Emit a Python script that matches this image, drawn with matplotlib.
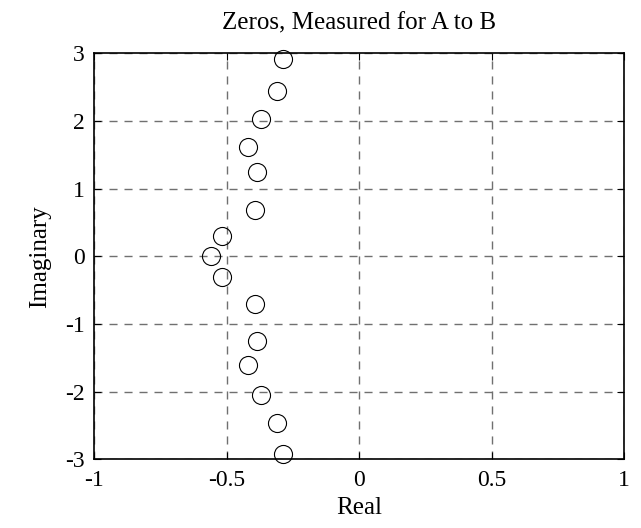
import matplotlib
matplotlib.use("Agg")
import matplotlib.pyplot as plt

real_parts = [-0.287, -0.309, -0.372, -0.419, -0.387, -0.395, -0.519, -0.560,
              -0.519, -0.395, -0.387, -0.419, -0.372, -0.309, -0.287]
imag_parts = [2.91, 2.45, 2.03, 1.61, 1.25, 0.69, 0.30, 0.0,
              -0.31, -0.70, -1.25, -1.61, -2.05, -2.47, -2.92]
x_ticks = [-1, -0.5, 0, 0.5, 1]
x_labels = ["-1", "-0.5", "0", "0.5", "1"]
y_ticks = [-3, -2, -1, 0, 1, 2, 3]
y_labels = ["-3", "-2", "-1", "0", "1", "2", "3"]

plt.rcParams['font.family'] = ['Liberation Serif', 'DejaVu Serif']
fig = plt.figure(figsize=(6.41, 5.28), dpi=100)
ax = fig.add_axes([94.3 / 641, 68.7 / 528, 530 / 641, 406 / 528])
ax.plot(real_parts, imag_parts, linestyle='none', marker='o', markersize=13,
        markerfacecolor='none', markeredgecolor='black', markeredgewidth=0.8,
        clip_on=False, zorder=3)
ax.set_xlim(-1, 1)
ax.set_ylim(-3, 3)
ax.set_xticks(x_ticks)
ax.set_xticklabels(x_labels)
ax.set_yticks(y_ticks)
ax.set_yticklabels(y_labels)
ax.tick_params(direction='in', top=True, right=True, labelsize=17, length=5, width=0.8)
ax.tick_params(axis='x', pad=8)
ax.tick_params(axis='y', pad=7)
ax.grid(True, linestyle=(0, (5.8, 5.0)), color='#707070', linewidth=1.0)
for s in ax.spines.values():
    s.set_linewidth(1.2)
ax.set_xlabel("Real", fontsize=18, labelpad=4)
ax.set_ylabel("Imaginary", fontsize=18, labelpad=10)
ax.set_title("Zeros, Measured for A to B", fontsize=18, pad=17)
fig.savefig("out.png", dpi=100)
